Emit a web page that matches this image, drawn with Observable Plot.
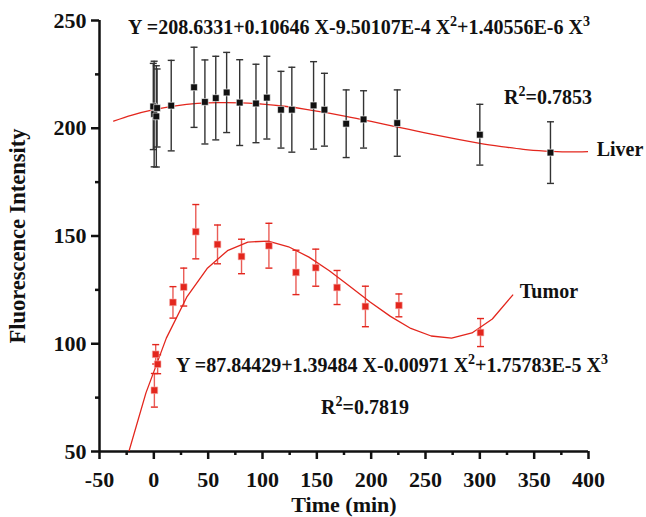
<!DOCTYPE html>
<html><head><meta charset="utf-8">
<script src="https://cdn.jsdelivr.net/npm/d3@7"></script>
<script src="https://cdn.jsdelivr.net/npm/@observablehq/plot@0.6"></script>
<style>body{margin:0;background:#fff}</style>
</head><body><div id="chart"></div>
<script>
// ---- Data ----
const liverTime = [-0.5, 0.3, 2.3, 3, 16, 37, 47, 57, 67, 79, 94, 104, 117, 127, 147, 157, 177, 193, 224, 300, 365];
const liverMean = [210.1, 206.6, 205.5, 209.4, 210.5, 219, 212.2, 214, 216.6, 211.9, 211.5, 214.2, 208.6, 208.6, 210.6, 208.6, 202.1, 204.1, 202.4, 197, 188.7];
const liverSD   = [20, 24.5, 23.5, 18.1, 21, 18.6, 19.5, 19.4, 18.6, 19.9, 18.2, 19.2, 17.8, 19.7, 20.3, 16.9, 15.7, 13.3, 15.4, 14.1, 14.3];

const tumorTime = [0.5, 1.7, 3.5, 17.6, 27.5, 38.6, 58.6, 80.7, 105.9, 130.8, 149, 168.6, 194.7, 225.5, 300.6];
const tumorMean = [78.4, 95.1, 90.5, 119.2, 126.3, 152, 146.1, 140.5, 145.5, 133.1, 135.3, 126.1, 117.3, 117.8, 105.2];
const tumorSD   = [7.8, 4.5, 4.4, 7.3, 8.8, 12.6, 9, 8, 10.4, 10.3, 8.6, 7.9, 9.4, 5.3, 6.5];

// fitted curves (as drawn)
const liverFitX = [-37, -20, 0, 20, 40, 60, 80, 100, 120, 140, 160, 180, 200, 220, 240, 260, 280, 300, 320, 340, 360, 380, 400];
const liverFitY = [203.3, 206.1, 208.6, 210.4, 211.5, 211.9, 211.8, 211.2, 210.2, 208.8, 207.1, 205.2, 203.2, 201.0, 198.9, 196.8, 194.8, 193.0, 191.5, 190.2, 189.4, 189.0, 189.2];
const tumorFitX = [-26, -7.25, 11.5, 30.25, 49, 67.75, 86.5, 105.25, 124, 142.75, 161.5, 180.25, 199, 217.75, 236.5, 255.25, 274, 292.75, 311.5, 330.25];
const tumorFitY = [44.7, 77.2, 102.6, 121.6, 134.9, 143.2, 147.2, 147.6, 145.0, 140.2, 133.9, 126.7, 119.4, 112.7, 107.1, 103.6, 102.6, 105.0, 111.5, 122.6];

const xTicks = [-50, 0, 50, 100, 150, 200, 250, 300, 350, 400];
const xMinor = [-25, 25, 75, 125, 175, 225, 275, 325, 375];
const yTicks = [50, 100, 150, 200, 250];
const yMinor = [75, 125, 175, 225];

const annotations = [
  {x: 188.8, y: 246.7, text: "Y =208.6331+0.10646 X-9.50107E-4 X²+1.40556E-6 X³"},
  {x: 362.7, y: 214.2, text: "R²=0.7853"},
  {x: 429, y: 190, text: "Liver"},
  {x: 363.6, y: 124, text: "Tumor"},
  {x: 219.2, y: 90, text: "Y =87.84429+1.39484 X-0.00971 X²+1.75783E-5 X³"},
  {x: 194.3, y: 70.5, text: "R²=0.7819"}
];

const liver = liverTime.map((t, i) => ({t, m: liverMean[i], lo: liverMean[i] - liverSD[i], hi: liverMean[i] + liverSD[i]}));
const tumor = tumorTime.map((t, i) => ({t, m: tumorMean[i], lo: tumorMean[i] - tumorSD[i], hi: tumorMean[i] + tumorSD[i]}));
const liverFit = liverFitX.map((x, i) => ({x, y: liverFitY[i]}));
const tumorFit = tumorFitX.map((x, i) => ({x, y: tumorFitY[i]}));

const cap = {draw(ctx) { ctx.moveTo(-3.5, 0); ctx.lineTo(3.5, 0); }};
const RED = "#e3261d";
const FONT = "Liberation Serif";

const plot = Plot.plot({
  width: 646, height: 517,
  marginLeft: 99, marginRight: 58, marginTop: 20, marginBottom: 66,
  x: {domain: [-50, 400]},
  y: {domain: [50, 250]},
  style: {fontFamily: FONT, background: "#fff"},
  marks: [
    // axes
    Plot.axisX({ticks: xTicks, tickSize: 8, tickPadding: 12, tickFormat: d => String(d), fontSize: 22, fontWeight: "bold", fill: "#111", stroke: "#111", strokeWidth: 2.5, label: null}),
    Plot.axisX({ticks: xMinor, tickSize: 4, tickFormat: () => "", stroke: "#111", strokeWidth: 2.5, label: null}),
    Plot.axisY({ticks: yTicks, tickSize: 8, tickPadding: 5, fontSize: 22, fontWeight: "bold", fill: "#111", stroke: "#111", strokeWidth: 2.5, label: null}),
    Plot.axisY({ticks: yMinor, tickSize: 4, tickFormat: () => "", stroke: "#111", strokeWidth: 2.5, label: null}),
    Plot.ruleX([-50], {stroke: "#111", strokeWidth: 2.5}),
    Plot.ruleY([50], {stroke: "#111", strokeWidth: 2.5}),
    Plot.text(["Fluorescence Intensity"], {frameAnchor: "left", textAnchor: "middle", rotate: -90, dx: -82, fontSize: 22.5, fontWeight: "bold", fill: "#111"}),
    Plot.text(["Time (min)"], {frameAnchor: "bottom", textAnchor: "middle", dy: 60, fontSize: 22, fontWeight: "bold", fill: "#111"}),
    // fits
    Plot.line(liverFit, {x: "x", y: "y", stroke: RED, strokeWidth: 1.3, curve: "natural", clip: true}),
    Plot.line(tumorFit, {x: "x", y: "y", stroke: RED, strokeWidth: 1.3, clip: true}),
    // liver error bars + points
    Plot.ruleX(liver, {x: "t", y1: "lo", y2: "hi", stroke: "#333", strokeWidth: 1.4}),
    Plot.dot(liver, {x: "t", y: "lo", symbol: cap, stroke: "#333", strokeWidth: 1.4}),
    Plot.dot(liver, {x: "t", y: "hi", symbol: cap, stroke: "#333", strokeWidth: 1.4}),
    Plot.dot(liver, {x: "t", y: "m", symbol: "square", r: 3.8, fill: "#111", stroke: "#fff", strokeWidth: 0.6}),
    // tumor error bars + points
    Plot.ruleX(tumor, {x: "t", y1: "lo", y2: "hi", stroke: RED, strokeOpacity: 0.75, strokeWidth: 1.4}),
    Plot.dot(tumor, {x: "t", y: "lo", symbol: cap, stroke: RED, strokeWidth: 1.4}),
    Plot.dot(tumor, {x: "t", y: "hi", symbol: cap, stroke: RED, strokeWidth: 1.4}),
    Plot.dot(tumor, {x: "t", y: "m", symbol: "square", r: 3.8, fill: RED, stroke: "#f7b0ac", strokeWidth: 0.6}),
    // annotations
    Plot.text(annotations, {x: "x", y: "y", text: "text", textAnchor: "middle", fontSize: 20, fontWeight: "bold", fill: "#111"})
  ]
});

// render ² and ³ as raised superscripts
plot.querySelectorAll("text").forEach(node => {
  const s = node.textContent;
  if (!/[²³]/.test(s) || node.children.length) return;
  node.textContent = "";
  const parts = s.split(/([²³])/);
  let raised = false;
  const ns = "http://www.w3.org/2000/svg";
  parts.forEach(p => {
    if (!p) return;
    const ts = document.createElementNS(ns, "tspan");
    if (p === "²" || p === "³") {
      ts.textContent = p === "²" ? "2" : "3";
      ts.setAttribute("font-size", "14");
      ts.setAttribute("dy", "-8");
      raised = true;
    } else {
      ts.textContent = p;
      if (raised) { ts.setAttribute("dy", "8"); raised = false; }
    }
    node.appendChild(ts);
  });
});
document.getElementById("chart").appendChild(plot);
</script>
</body></html>
